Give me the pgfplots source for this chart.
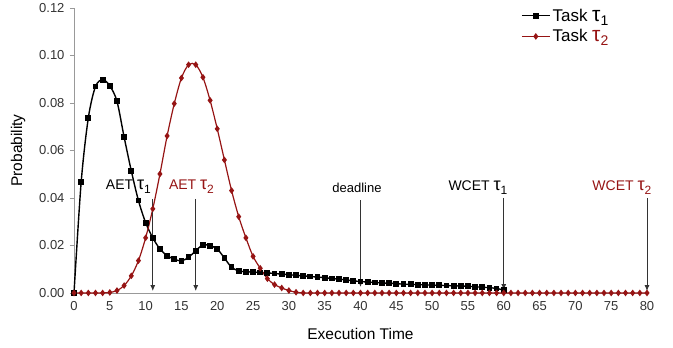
\documentclass[border=0pt]{standalone}
\usepackage{fontspec}
\setmainfont{Liberation Sans}
\usepackage{pgfplots}
\pgfplotsset{compat=1.18}
\usetikzlibrary{arrows.meta}
\definecolor{dred}{RGB}{150,20,20}
\newcommand{\tauone}{{\fontsize{18}{18}\selectfont τ}\raisebox{-0.45ex}{\fontsize{12}{12}\selectfont 1}}
\newcommand{\tautwo}{{\fontsize{18}{18}\selectfont τ}\raisebox{-0.45ex}{\fontsize{12}{12}\selectfont 2}}
\newcommand{\ltauone}{{\fontsize{21}{21}\selectfont τ}\raisebox{-0.45ex}{\fontsize{14}{14}\selectfont 1}}
\newcommand{\ltautwo}{{\fontsize{21}{21}\selectfont τ}\raisebox{-0.45ex}{\fontsize{14}{14}\selectfont 2}}
\begin{document}
\begin{tikzpicture}
\begin{axis}[
  scale only axis, width=573pt, height=285pt,
  xmin=0, xmax=80, ymin=0, ymax=0.12,
  axis x line=bottom, axis y line=left,
  axis line style={-, black!40},
  xtick={0,5,...,80}, major x tick style={draw=none},
  extra x ticks={4.5,9.5,...,79.5}, extra x tick labels={},
  extra x tick style={major tick length=4pt, tick style={black!40}},
  ytick={0,0.02,...,0.12}, major tick length=4pt, tick align=outside,
  y tick style={black!40},
  yticklabel style={/pgf/number format/.cd, fixed, fixed zerofill, precision=2, /tikz/.cd, xshift=-2pt},
  /pgf/number format/assume math mode=true,
  tick label style={font=\fontsize{13}{15}\selectfont, text=black!80},
  xticklabel style={yshift=-1pt},
  scaled y ticks=false,
  xlabel={Execution Time}, ylabel={Probability},
  label style={font=\fontsize{15.5}{18}\selectfont},
  xlabel style={at={(axis description cs:0.5,0)}, anchor=center, yshift=-41pt},
  ylabel style={at={(axis description cs:-0.0977,0.5)}, anchor=center},
  clip=false,
  legend style={draw=none, fill=none, at={(rel axis cs:0.78,1.005)}, anchor=north west,
    font=\fontsize{17}{20}\selectfont, row sep=3pt, inner sep=0pt,
    legend cell align=left},
  legend image code/.code={\draw[mark repeat=2,mark phase=2] plot coordinates {(0pt,0pt) (14pt,0pt) (28pt,0pt)};},
]
\path[draw=none] (rel axis cs:0,0) ++(-74pt,-55pt) rectangle ++(673pt,347pt);
\addplot[black, line width=1.4pt, smooth, mark=square*, mark size=2.2pt, mark options={solid}] coordinates {
(0,0) (1,0.0466) (2,0.0737) (3,0.0869) (4,0.0898) (5,0.0872) (6,0.0807) (7,0.0656) (8,0.0514) (9,0.0389)
(10,0.0296) (11,0.0232) (12,0.0185) (13,0.0157) (14,0.0142) (15,0.0135) (16,0.0150) (17,0.0178) (18,0.0202) (19,0.0199)
(20,0.0185) (21,0.0147) (22,0.0108) (23,0.0093) (24,0.0089) (25,0.0088) (26,0.0086) (27,0.0084) (28,0.0082) (29,0.0079)
(30,0.0077) (31,0.0074) (32,0.0072) (33,0.0069) (34,0.0067) (35,0.0064) (36,0.0061) (37,0.0058) (38,0.0055) (39,0.0051)
(40,0.0048) (41,0.0046) (42,0.0044) (43,0.0042) (44,0.0041) (45,0.0039) (46,0.0037) (47,0.0036) (48,0.0035) (49,0.0034)
(50,0.0033) (51,0.0032) (52,0.0031) (53,0.0030) (54,0.0029) (55,0.0028) (56,0.0026) (57,0.0024) (58,0.0022) (59,0.0019)
(60,0.0012)
};
\addlegendentry{Task \ltauone}
\addplot[dred, line width=1.2pt, smooth, mark=diamond*, mark size=2.4pt, mark options={solid}] coordinates {
(0,0) (1,0) (2,0) (3,0) (4,0) (5,0.0002) (6,0.0010) (7,0.0031) (8,0.0072) (9,0.0136)
(10,0.0232) (11,0.0354) (12,0.0501) (13,0.0661) (14,0.0797) (15,0.0905) (16,0.0961) (17,0.0961) (18,0.0908) (19,0.0811)
(20,0.0691) (21,0.0560) (22,0.0431) (23,0.0321) (24,0.0232) (25,0.0154) (26,0.0104) (27,0.0060) (28,0.0035) (29,0.0021)
(30,0.0010) (31,0.0003) (32,0) (33,0) (34,0) (35,0) (36,0) (37,0) (38,0) (39,0)
(40,0) (41,0) (42,0) (43,0) (44,0) (45,0) (46,0) (47,0) (48,0) (49,0)
(50,0) (51,0) (52,0) (53,0) (54,0) (55,0) (56,0) (57,0) (58,0) (59,0)
(60,0) (61,0) (62,0) (63,0) (64,0) (65,0) (66,0) (67,0) (68,0) (69,0)
(70,0) (71,0) (72,0) (73,0) (74,0) (75,0) (76,0) (77,0) (78,0) (79,0) (80,0)
};
\addlegendentry{Task {\color{dred}\ltautwo}}
% arrows
\draw[black!80, line width=0.8pt, -{Latex[length=6pt,width=5pt]}] (axis cs:11,0.0396) -- (axis cs:11,0.0008);
\draw[black!80, line width=0.8pt, -{Latex[length=6pt,width=5pt]}] (axis cs:17,0.0396) -- (axis cs:17,0.0008);
\draw[black!80, line width=0.8pt, -{Latex[length=6pt,width=5pt]}] (axis cs:40,0.0390) -- (axis cs:40,0.0025);
\draw[black!80, line width=0.8pt, -{Latex[length=6pt,width=5pt]}] (axis cs:60,0.0400) -- (axis cs:60,0.0012);
\draw[black!80, line width=0.8pt, -{Latex[length=6pt,width=5pt]}] (axis cs:80,0.0400) -- (axis cs:80,0.0008);
% labels
\node[anchor=base, font=\fontsize{14}{16}\selectfont, inner sep=0pt] at (axis cs:7.6,0.0434) {AET \tauone};
\node[anchor=base, font=\fontsize{14}{16}\selectfont, inner sep=0pt, text=dred] at (axis cs:16.4,0.0434) {AET \tautwo};
\node[anchor=base, font=\fontsize{13}{16}\selectfont, inner sep=0pt] at (axis cs:39.5,0.0425) {deadline};
\node[anchor=base, font=\fontsize{14}{16}\selectfont, inner sep=0pt] at (axis cs:56.4,0.0430) {WCET \tauone};
\node[anchor=base, font=\fontsize{14}{16}\selectfont, inner sep=0pt, text=dred] at (axis cs:76.5,0.0430) {WCET \tautwo};
\end{axis}
\end{tikzpicture}
\end{document}
